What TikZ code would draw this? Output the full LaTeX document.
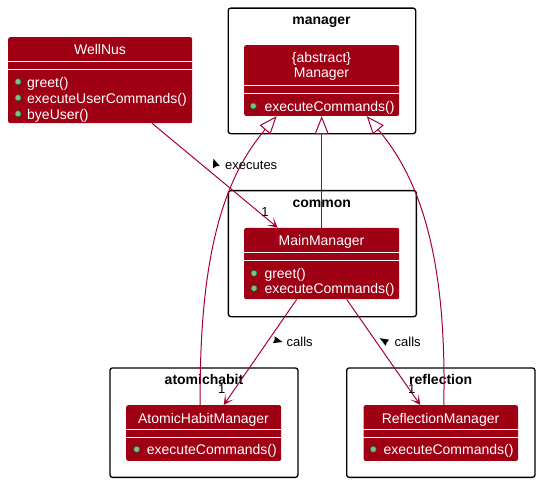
\documentclass[tikz,border=0pt]{standalone}
\usepackage{fontspec}
\setmainfont{Liberation Sans}
\usetikzlibrary{arrows.meta}

\definecolor{clsred}{RGB}{160,0,20}
\definecolor{edgered}{RGB}{168,0,54}
\definecolor{dotgreen}{RGB}{132,190,132}
\definecolor{dotline}{RGB}{3,128,72}

\tikzset{
  pkg/.style={draw=black, line width=1.3bp, rounded corners=2.5bp, fill=white, anchor=north west, inner sep=0pt},
  pkgtitle/.style={font=\fontsize{14bp}{16bp}\selectfont\bfseries, inner sep=0pt, text height=12bp, text depth=1bp},
  cls/.style={fill=clsred, rounded corners=2bp, anchor=north west, inner sep=0pt},
  clsname/.style={text=white, font=\fontsize{14bp}{16bp}\selectfont, inner sep=0pt, text height=12bp, text depth=1bp},
  meth/.style={clsname, anchor=west},
  sepline/.style={draw=white, line width=1bp},
  mdot/.style={fill=dotgreen, draw=dotline, line width=0.5bp},
  edge/.style={draw=edgered, line width=1bp},
  assoc/.style={edge, -{Stealth[length=10bp,width=10bp,inset=6bp]}},
  inherit/.style={edge, -{Triangle[open,length=18bp,width=14bp]}},
  lbl/.style={font=\fontsize{13bp}{15bp}\selectfont, inner sep=0pt, text height=11bp, text depth=1bp},
  dirmark/.style={fill=black},
}

\begin{document}
\begin{tikzpicture}[x=1bp,y=-1bp]

        \useasboundingbox (0,0) rectangle (539,482);

        \node[pkg, minimum width=187.5bp, minimum height=125.5bp] (pkgmanager) at (227.5,7.5) {};
        \node[pkgtitle] (tmanager) at (321.5,19.3) {manager};
        \node[pkg, minimum width=188bp, minimum height=126bp] (pkgcommon) at (227.7,190) {};
        \node[pkgtitle] (tcommon) at (321.7,201.7) {common};
        \node[pkg, minimum width=188bp, minimum height=109.4bp] (pkgatomic) at (109.3,367.3) {};
        \node[pkgtitle] (tatomic) at (204,379.3) {atomichabit};
        \node[pkg, minimum width=188.3bp, minimum height=109.4bp] (pkgrefl) at (346,367.3) {};
        \node[pkgtitle] (trefl) at (440.7,379.3) {reflection};

        \node[cls, minimum width=184bp, minimum height=86bp] (wellnus) at (8,37) {};
        \node[clsname] (wellnusname) at (100,49.5) {WellNus};
        \draw[sepline] (8,61.7) -- ++(184,0);
        \draw[sepline] (8,69.3) -- ++(184,0);
        \foreach \m [count=\i] in {greet(),executeUserCommands(),byeUser()} {
            \filldraw[mdot] (18,65.7+16*\i) circle (3bp);
            \node[meth] (wellnusm\i) at (27,65.7+16*\i) {\m};
        }

        \node[cls, minimum width=155bp, minimum height=70.7bp] (manager) at (244,45) {};
        \node[clsname] (managerabs) at (321.5,57.5) {\{abstract\}};
        \node[clsname] (managername) at (321.5,72) {Manager};
        \draw[sepline] (244,85.7) -- ++(155,0);
        \draw[sepline] (244,94) -- ++(155,0);
        \filldraw[mdot] (253.3,106) circle (3bp);
        \node[meth] (managerm1) at (264.3,106) {executeCommands()};

        \node[cls, minimum width=155bp, minimum height=71.3bp] (mainmgr) at (244,227.7) {};
        \node[clsname] (mainmgrname) at (321.5,240.2) {MainManager};
        \draw[sepline] (244,252.3) -- ++(155,0);
        \draw[sepline] (244,260.7) -- ++(155,0);
        \foreach \m [count=\i] in {greet(),executeCommands()} {
            \filldraw[mdot] (254,258.3+15*\i) circle (3bp);
            \node[meth] (mainmgrm\i) at (264.3,258.3+15*\i) {\m};
        }

        \node[cls, minimum width=155bp, minimum height=55.7bp] (atomicmgr) at (126,405) {};
        \node[clsname] (atomicmgrname) at (203.5,417.5) {AtomicHabitManager};
        \draw[sepline] (126,429.3) -- ++(155,0);
        \draw[sepline] (126,437.3) -- ++(155,0);
        \filldraw[mdot] (136.7,449.3) circle (3bp);
        \node[meth] (atomicmgrm1) at (146.7,449.3) {executeCommands()};

        \node[cls, minimum width=154.5bp, minimum height=55.7bp] (reflmgr) at (363.3,405) {};
        \node[clsname] (reflmgrname) at (440.5,417.5) {ReflectionManager};
        \draw[sepline] (363.3,429.3) -- ++(154.5,0);
        \draw[sepline] (363.3,437.3) -- ++(154.5,0);
        \filldraw[mdot] (373.3,449.3) circle (3bp);
        \node[meth] (reflmgrm1) at (383.3,449.3) {executeCommands()};

        \draw[inherit] (mainmgr.north) -- (manager.south);
        \draw[inherit] ([xshift=-3.5bp]atomicmgr.north) .. controls (199,260) and (222,180) .. ([xshift=-45bp]manager.south);
        \draw[inherit] ([xshift=3bp]reflmgr.north) .. controls (447,260) and (421,180) .. ([xshift=45bp]manager.south);

        \draw[assoc] ([xshift=52bp]wellnus.south) -- ([xshift=-44bp]mainmgr.north);
        \draw[assoc] ([xshift=-25bp]mainmgr.south) -- ([xshift=20bp]atomicmgr.north);
        \draw[assoc] ([xshift=25bp]mainmgr.south) -- ([xshift=-20.5bp]reflmgr.north);

        \node[lbl] (mult1) at (265,211) {1};
        \node[lbl] (mult2) at (221.7,388) {1};
        \node[lbl] (mult3) at (411.7,388) {1};

        \fill[dirmark] (213.3,158.6) -- (219.7,165.9) -- (216.1,166.3) -- (213.1,168.3) -- cycle;
        \node[lbl, anchor=west] (lexec) at (225,165) {executes};
        \fill[dirmark] (282.6,342) -- (272.9,343.1) -- (274.6,339.9) -- (274.7,336.3) -- cycle;
        \node[lbl, anchor=west] (lcalls1) at (286.5,341) {calls};
        \fill[dirmark] (379.7,338.2) -- (389.2,339.7) -- (386.8,342.3) -- (385.7,345.8) -- cycle;
        \node[lbl, anchor=west] (lcalls2) at (394.5,341) {calls};

\end{tikzpicture}
\end{document}
